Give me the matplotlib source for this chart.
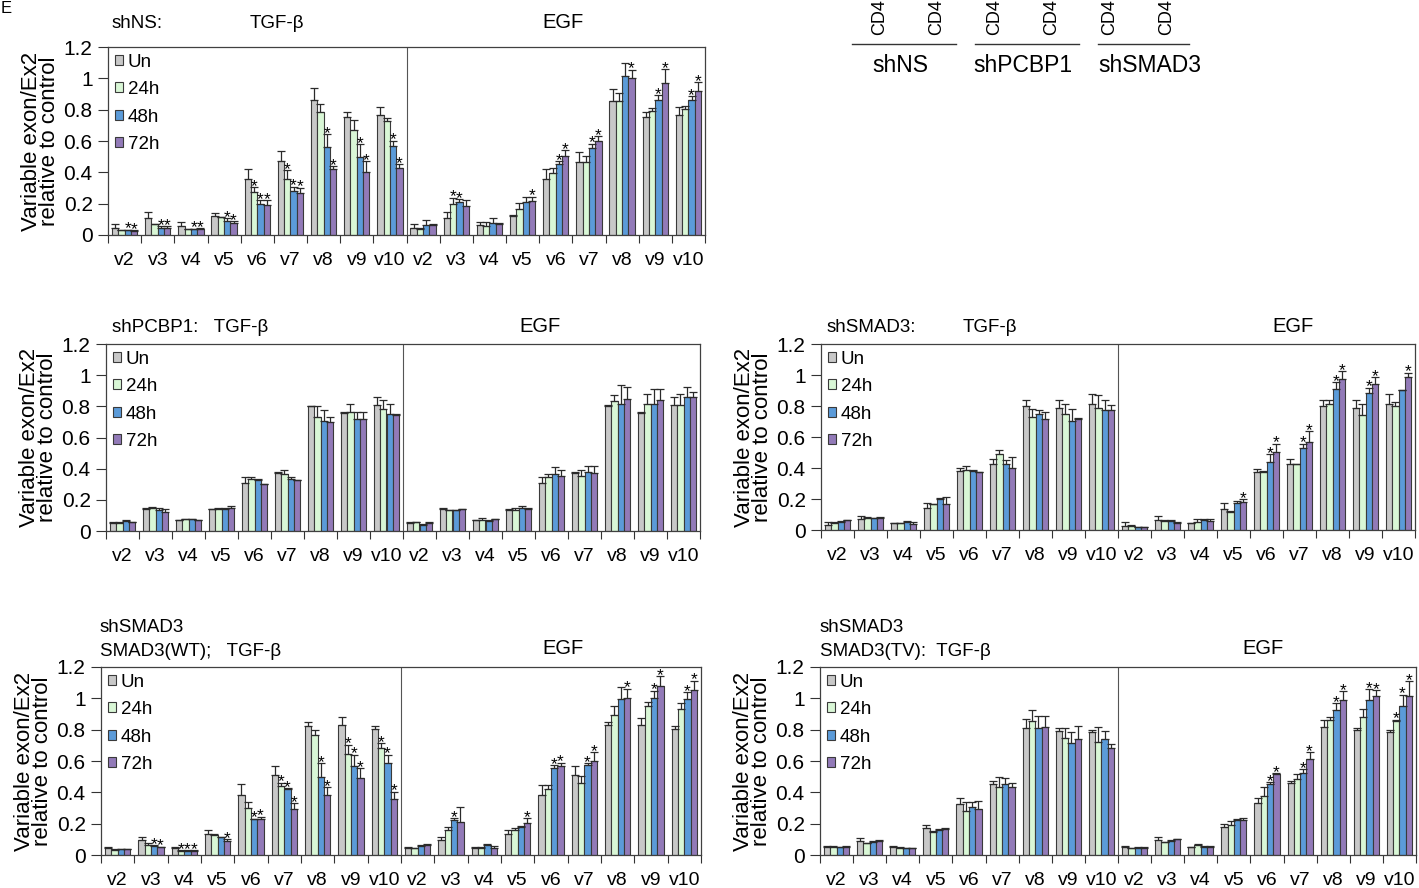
import matplotlib.pyplot as plt
import numpy as np
from matplotlib.patches import Patch

plt.rcParams['font.family'] = ['Liberation Sans', 'DejaVu Sans']

# categories
variants = ['v2', 'v3', 'v4', 'v5', 'v6', 'v7', 'v8', 'v9', 'v10'] * 2
series = ['Un', '24h', '48h', '72h']
colors = ['#c8c8c8', '#d9f7d6', '#5b9bd9', '#927ab8']

# shNS  (rows: v2..v10 TGF-b, then v2..v10 EGF; cols: Un, 24h, 48h, 72h)
shNS_mean = [
    [0.047, 0.030, 0.030, 0.025], [0.106, 0.068, 0.047, 0.047], [0.057, 0.036, 0.036, 0.036],
    [0.123, 0.112, 0.089, 0.079], [0.357, 0.276, 0.195, 0.189], [0.473, 0.355, 0.280, 0.270],
    [0.860, 0.786, 0.563, 0.420], [0.750, 0.669, 0.500, 0.400], [0.769, 0.728, 0.569, 0.429],
    [0.047, 0.038, 0.064, 0.062], [0.106, 0.200, 0.212, 0.185], [0.062, 0.060, 0.076, 0.070],
    [0.123, 0.166, 0.210, 0.214], [0.355, 0.397, 0.456, 0.505], [0.469, 0.469, 0.558, 0.603],
    [0.853, 0.853, 1.013, 1.004], [0.750, 0.790, 0.864, 0.970], [0.764, 0.807, 0.864, 0.919],
]
shNS_err = [
    [0.023, 0.005, 0.005, 0.005], [0.038, 0.005, 0.008, 0.008], [0.025, 0.005, 0.005, 0.008],
    [0.019, 0.005, 0.019, 0.010], [0.064, 0.028, 0.028, 0.034], [0.062, 0.059, 0.028, 0.032],
    [0.079, 0.047, 0.081, 0.021], [0.036, 0.064, 0.081, 0.072], [0.049, 0.021, 0.032, 0.023],
    [0.023, 0.005, 0.032, 0.008], [0.038, 0.038, 0.017, 0.038], [0.019, 0.021, 0.030, 0.006],
    [0.005, 0.040, 0.030, 0.030], [0.064, 0.028, 0.015, 0.036], [0.062, 0.036, 0.025, 0.028],
    [0.081, 0.053, 0.085, 0.051], [0.032, 0.023, 0.028, 0.089], [0.053, 0.015, 0.021, 0.057],
]
shNS_sig = ['0011', '0011', '0011', '0011', '0111', '0111', '0011', '0011', '0011',
            '0000', '0110', '0000', '0001', '0011', '0011', '0001', '0011', '0011']

# shPCBP1
shPCBP1_mean = [
    [0.051, 0.051, 0.064, 0.056], [0.143, 0.150, 0.137, 0.122], [0.068, 0.075, 0.075, 0.068],
    [0.139, 0.139, 0.143, 0.150], [0.308, 0.336, 0.325, 0.300], [0.374, 0.364, 0.332, 0.325],
    [0.800, 0.732, 0.706, 0.700], [0.759, 0.762, 0.721, 0.721], [0.809, 0.785, 0.753, 0.744],
    [0.051, 0.056, 0.041, 0.051], [0.143, 0.133, 0.133, 0.139], [0.068, 0.068, 0.064, 0.075],
    [0.137, 0.137, 0.150, 0.143], [0.308, 0.346, 0.364, 0.353], [0.372, 0.353, 0.379, 0.370],
    [0.804, 0.834, 0.817, 0.847], [0.757, 0.817, 0.817, 0.839], [0.809, 0.809, 0.860, 0.860],
]
shPCBP1_err = [
    [0.004, 0.004, 0.004, 0.004], [0.006, 0.004, 0.013, 0.021], [0.004, 0.004, 0.004, 0.004],
    [0.004, 0.011, 0.006, 0.009], [0.039, 0.011, 0.006, 0.004], [0.006, 0.026, 0.015, 0.004],
    [0.003, 0.068, 0.068, 0.032], [0.004, 0.056, 0.043, 0.043], [0.051, 0.053, 0.064, 0.004],
    [0.004, 0.004, 0.004, 0.004], [0.004, 0.004, 0.004, 0.004], [0.004, 0.017, 0.004, 0.004],
    [0.004, 0.011, 0.009, 0.004], [0.039, 0.017, 0.047, 0.036], [0.004, 0.036, 0.039, 0.047],
    [0.004, 0.036, 0.118, 0.077], [0.004, 0.064, 0.096, 0.075], [0.051, 0.068, 0.064, 0.032],
]
shPCBP1_sig = ['0000'] * 18

# shSMAD3
shSMAD3_mean = [
    [0.032, 0.047, 0.054, 0.062], [0.069, 0.079, 0.075, 0.079], [0.043, 0.043, 0.052, 0.037],
    [0.140, 0.165, 0.200, 0.167], [0.380, 0.390, 0.380, 0.371], [0.425, 0.490, 0.425, 0.401],
    [0.799, 0.726, 0.747, 0.715], [0.784, 0.751, 0.704, 0.719], [0.816, 0.790, 0.773, 0.773],
    [0.028, 0.028, 0.017, 0.017], [0.064, 0.058, 0.058, 0.047], [0.043, 0.054, 0.064, 0.058],
    [0.135, 0.118, 0.172, 0.180], [0.376, 0.376, 0.440, 0.502], [0.425, 0.425, 0.530, 0.567],
    [0.799, 0.810, 0.912, 0.977], [0.784, 0.745, 0.887, 0.940], [0.816, 0.799, 0.902, 0.988],
]
shSMAD3_err = [
    [0.017, 0.004, 0.004, 0.004], [0.024, 0.004, 0.004, 0.004], [0.004, 0.004, 0.004, 0.015],
    [0.032, 0.004, 0.009, 0.043], [0.021, 0.024, 0.004, 0.004], [0.030, 0.026, 0.026, 0.067],
    [0.039, 0.056, 0.026, 0.047], [0.054, 0.064, 0.079, 0.004], [0.060, 0.079, 0.064, 0.032],
    [0.021, 0.004, 0.004, 0.004], [0.028, 0.004, 0.004, 0.004], [0.004, 0.017, 0.006, 0.013],
    [0.036, 0.004, 0.017, 0.017], [0.015, 0.004, 0.049, 0.056], [0.032, 0.004, 0.028, 0.071],
    [0.039, 0.028, 0.043, 0.047], [0.054, 0.071, 0.032, 0.047], [0.064, 0.028, 0.004, 0.028],
]
shSMAD3_sig = ['0000', '0000', '0000', '0000', '0000', '0000', '0000', '0000', '0000',
               '0000', '0000', '0000', '0001', '0011', '0011', '0011', '0011', '0001']

# shSMAD3 + SMAD3(WT)
wt_mean = [
    [0.043, 0.032, 0.036, 0.036], [0.096, 0.064, 0.058, 0.049], [0.043, 0.028, 0.028, 0.028],
    [0.134, 0.128, 0.113, 0.092], [0.384, 0.298, 0.228, 0.230], [0.512, 0.441, 0.420, 0.292],
    [0.825, 0.767, 0.501, 0.384], [0.831, 0.646, 0.569, 0.490], [0.803, 0.686, 0.590, 0.356],
    [0.047, 0.043, 0.058, 0.064], [0.096, 0.160, 0.224, 0.213], [0.047, 0.047, 0.064, 0.047],
    [0.134, 0.160, 0.181, 0.202], [0.384, 0.420, 0.554, 0.569], [0.512, 0.458, 0.575, 0.597],
    [0.831, 0.893, 0.995, 1.002], [0.831, 0.948, 1.002, 1.076], [0.806, 0.931, 0.995, 1.055],
]
wt_err = [
    [0.006, 0.004, 0.004, 0.004], [0.021, 0.011, 0.004, 0.004], [0.011, 0.004, 0.004, 0.004],
    [0.026, 0.004, 0.004, 0.009], [0.068, 0.038, 0.004, 0.015], [0.053, 0.021, 0.006, 0.038],
    [0.023, 0.028, 0.085, 0.049], [0.047, 0.058, 0.070, 0.064], [0.021, 0.028, 0.049, 0.049],
    [0.004, 0.004, 0.004, 0.004], [0.021, 0.021, 0.011, 0.092], [0.004, 0.004, 0.004, 0.011],
    [0.026, 0.015, 0.004, 0.032], [0.064, 0.028, 0.021, 0.021], [0.053, 0.049, 0.011, 0.058],
    [0.015, 0.055, 0.077, 0.060], [0.043, 0.026, 0.047, 0.064], [0.015, 0.038, 0.043, 0.058],
]
wt_sig = ['0000', '0011', '0111', '0001', '0011', '0111', '0011', '0111', '0111',
          '0000', '0010', '0000', '0001', '0011', '0011', '0001', '0011', '0011']

# shSMAD3 + SMAD3(TV)
tv_mean = [
    [0.053, 0.053, 0.049, 0.053], [0.092, 0.075, 0.085, 0.090], [0.053, 0.047, 0.043, 0.043],
    [0.170, 0.149, 0.160, 0.166], [0.324, 0.281, 0.309, 0.292], [0.452, 0.437, 0.452, 0.437],
    [0.810, 0.853, 0.810, 0.820], [0.789, 0.750, 0.718, 0.740], [0.782, 0.720, 0.740, 0.686],
    [0.053, 0.043, 0.047, 0.047], [0.096, 0.081, 0.090, 0.100], [0.049, 0.064, 0.053, 0.053],
    [0.181, 0.192, 0.224, 0.224], [0.330, 0.379, 0.454, 0.516], [0.458, 0.486, 0.522, 0.614],
    [0.814, 0.863, 0.927, 0.991], [0.795, 0.880, 0.991, 1.017], [0.784, 0.853, 0.953, 1.017],
]
tv_err = [
    [0.004, 0.004, 0.004, 0.004], [0.019, 0.004, 0.004, 0.004], [0.004, 0.004, 0.004, 0.004],
    [0.021, 0.004, 0.009, 0.004], [0.038, 0.060, 0.032, 0.053], [0.021, 0.064, 0.038, 0.021],
    [0.058, 0.075, 0.079, 0.068], [0.021, 0.060, 0.070, 0.081], [0.013, 0.100, 0.049, 0.023],
    [0.004, 0.004, 0.004, 0.004], [0.017, 0.004, 0.004, 0.004], [0.004, 0.004, 0.004, 0.004],
    [0.017, 0.028, 0.006, 0.015], [0.036, 0.058, 0.009, 0.006], [0.015, 0.030, 0.026, 0.043],
    [0.049, 0.021, 0.043, 0.053], [0.015, 0.051, 0.068, 0.034], [0.011, 0.011, 0.070, 0.092],
]
tv_sig = ['0000'] * 9 + ['0000', '0000', '0000', '0000', '0011', '0011', '0011', '0011', '0111']

W, H = 1419, 888
fig = plt.figure(figsize=(W / 100, H / 100), dpi=100)


def rect(l, r, t, b):
    return [l / W, 1 - b / H, (r - l) / W, (b - t) / H]


def ftext(x, y, s, **kw):
    fig.text(x / W, 1 - y / H, s, **kw)


def panel(box, mean, err, sig):
    ax = fig.add_axes(rect(*box))
    width_px = box[1] - box[0]
    mean = np.array(mean)
    err = np.array(err)
    centers = np.arange(18) + 0.5
    w = 0.19
    for k in range(4):
        x = centers + (k - 1.5) * w
        ax.bar(x, mean[:, k], width=w, color=colors[k], edgecolor='#3a3a3a',
               linewidth=0.8, zorder=2)
        ax.errorbar(x, mean[:, k], yerr=[np.zeros(18), err[:, k]], fmt='none',
                    ecolor='#2a2a2a', elinewidth=0.9, capsize=2.6, capthick=0.9, zorder=3)
        for i in range(18):
            if sig[i][k] == '1':
                ax.text(x[i], mean[i, k] + err[i, k] + 0.005, '*', ha='center',
                        va='center', fontsize=12.5, zorder=4)
    ax.axvline(9, color='#555555', lw=0.8)
    ax.set_xlim(0, 18)
    ax.set_ylim(0, 1.2)
    ax.set_xticks(np.arange(19))
    ax.set_xticklabels([])
    ax.set_xticks(centers, minor=True)
    ax.set_xticklabels(variants, minor=True, fontsize=14)
    ax.tick_params(axis='x', which='minor', length=0, pad=12.5)
    ax.tick_params(axis='x', which='major', length=6, direction='out', color='#333333')
    ax.set_yticks([0, 0.2, 0.4, 0.6, 0.8, 1.0, 1.2])
    ax.set_yticklabels(['0', '0.2', '0.4', '0.6', '0.8', '1', '1.2'], fontsize=15)
    ax.tick_params(axis='y', length=7, direction='out', color='#333333', pad=4)
    for s in ax.spines.values():
        s.set_color('#404040')
        s.set_linewidth(0.9)
    ax.set_ylabel('Variable exon/Ex2\nrelative to control', fontsize=16, linespacing=0.82)
    ax.yaxis.set_label_coords(-48 / width_px, 0.5)
    handles = [Patch(facecolor=c, edgecolor='#3a3a3a', linewidth=0.8) for c in colors]
    ax.legend(handles, series, loc='upper left', frameon=False, fontsize=13.5,
              handlelength=0.45, handleheight=0.45, handletextpad=0.25,
              labelspacing=0.56, borderaxespad=0.0, borderpad=0.35)
    return ax


panel((108, 705, 47, 235), shNS_mean, shNS_err, shNS_sig)
panel((106, 700, 344, 531), shPCBP1_mean, shPCBP1_err, shPCBP1_sig)
panel((821, 1415, 344, 530), shSMAD3_mean, shSMAD3_err, shSMAD3_sig)
panel((101, 701, 667, 855), wt_mean, wt_err, wt_sig)
panel((820, 1416, 667, 855), tv_mean, tv_err, tv_sig)

# panel headers
tf = 13.5
ef = 14.5
ftext(112, 23, 'shNS:', fontsize=tf, va='center')
ftext(277, 23, 'TGF-β', fontsize=tf, va='center', ha='center')
ftext(563, 23, 'EGF', fontsize=ef, va='center', ha='center')
ftext(112, 327, 'shPCBP1:   TGF-β', fontsize=tf, va='center')
ftext(540, 327, 'EGF', fontsize=ef, va='center', ha='center')
ftext(827, 327, 'shSMAD3:', fontsize=tf, va='center')
ftext(990, 327, 'TGF-β', fontsize=tf, va='center', ha='center')
ftext(1293, 327, 'EGF', fontsize=ef, va='center', ha='center')
ftext(100, 628, 'shSMAD3', fontsize=tf, va='center')
ftext(100, 651, 'SMAD3(WT);   TGF-β', fontsize=tf, va='center')
ftext(563, 648, 'EGF', fontsize=ef, va='center', ha='center')
ftext(820, 628, 'shSMAD3', fontsize=tf, va='center')
ftext(820, 651, 'SMAD3(TV):  TGF-β', fontsize=tf, va='center')
ftext(1263, 648, 'EGF', fontsize=ef, va='center', ha='center')

# panel letter
ftext(1, 1, 'E', fontsize=12, va='top', ha='left')

# fragment of the neighbouring panel (top right)
for x in [880, 937, 995, 1052, 1110, 1167]:
    ftext(x, 35, 'CD4', fontsize=13, rotation=90, ha='center', va='bottom')
for (x0, x1) in [(852, 956), (975, 1079), (1098, 1189)]:
    fig.add_artist(plt.Line2D([x0 / W, x1 / W], [1 - 44 / H, 1 - 44 / H], color='#333333', lw=1.0))
for x, s in [(900, 'shNS'), (1023, 'shPCBP1'), (1150, 'shSMAD3')]:
    ftext(x, 65, s, fontsize=16.5, ha='center', va='center')

fig.savefig('out.png', dpi=100)
